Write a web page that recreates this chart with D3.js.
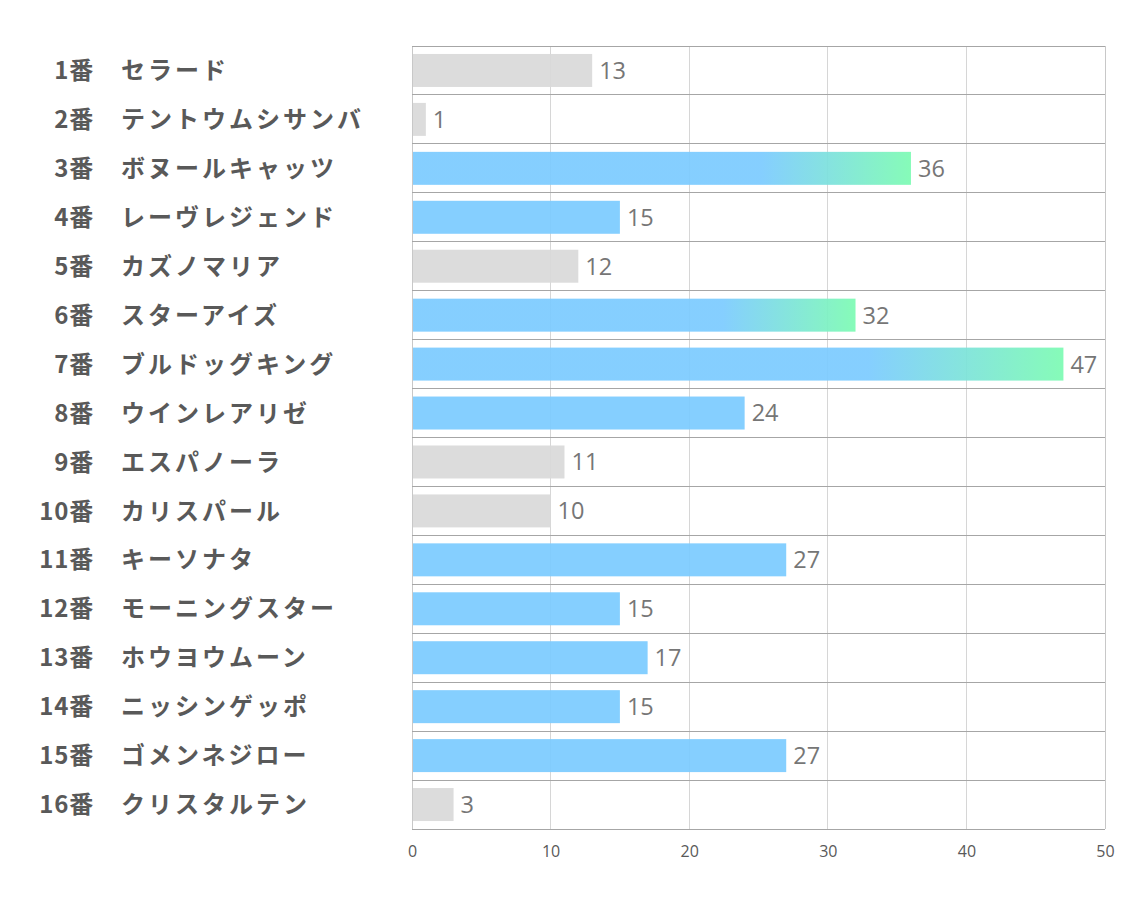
<!DOCTYPE html>
<html><head><meta charset="utf-8">
<script src="https://cdn.jsdelivr.net/npm/d3@7"></script>
<style>body{margin:0;background:#fff}</style>
</head><body>
<svg id="c" width="1134" height="907"></svg>
<script>
const numbers = ["1番","2番","3番","4番","5番","6番","7番","8番","9番","10番","11番","12番","13番","14番","15番","16番"];
const names = ["セラード","テントウムシサンバ","ボヌールキャッツ","レーヴレジェンド","カズノマリア","スターアイズ","ブルドッグキング","ウインレアリゼ","エスパノーラ","カリスパール","キーソナタ","モーニングスター","ホウヨウムーン","ニッシンゲッポ","ゴメンネジロー","クリスタルテン"];
const values = [13,1,36,15,12,32,47,24,11,10,27,15,17,15,27,3];
const kinds = ["grey","grey","grad","blue","grey","grad","grad","blue","grey","grey","blue","blue","blue","blue","blue","grey"];
const xTicks = [0,10,20,30,40,50];

const svg = d3.select("#c");
const L=412, R=1105, T=46, B=829;
const x = d3.scaleLinear().domain([0,50]).range([L,R]);
const y = d3.scaleBand().domain(d3.range(16)).range([T,B]).paddingInner(0.326).paddingOuter(0.163);
const step = y.step();

const defs = svg.append("defs");
const grad = defs.append("linearGradient").attr("id","g").attr("x1","0").attr("x2","1").attr("y1","0").attr("y2","0");
grad.append("stop").attr("offset","0.7").attr("stop-color","#7ccbff");
grad.append("stop").attr("offset","1").attr("stop-color","#7dfbb3");

// vertical gridlines
svg.append("g").selectAll("line").data(xTicks).join("line")
  .attr("x1",d=>x(d)).attr("x2",d=>x(d)).attr("y1",T).attr("y2",B)
  .attr("stroke",d=>(d===0||d===50)?"#c8c8c8":"#d6d6d6").attr("stroke-width",1).attr("shape-rendering","crispEdges");
// horizontal row lines
svg.append("g").selectAll("line").data(d3.range(17)).join("line")
  .attr("x1",L).attr("x2",R).attr("y1",d=>T+d*step).attr("y2",d=>T+d*step)
  .attr("stroke","#a6a6a6").attr("stroke-width",1).attr("shape-rendering","crispEdges");

// bars
svg.append("g").selectAll("rect").data(values).join("rect")
  .attr("x",x(0)+1).attr("y",(d,i)=>y(i))
  .attr("width",d=>x(d)-x(0)-1).attr("height",y.bandwidth())
  .attr("fill",(d,i)=>kinds[i]==="grey"?"#d9d9d9":kinds[i]==="blue"?"#7ccbff":"url(#g)")
  .attr("opacity",0.93);

// value labels
svg.append("g").selectAll("text").data(values).join("text")
  .attr("x",d=>x(d)+7).attr("y",(d,i)=>y(i)+y.bandwidth()/2)
  .attr("dy","0.36em").attr("font-family","'Open Sans','Noto Sans',sans-serif")
  .attr("font-size",23.5).attr("fill","#767676").text(d=>d);

// category labels
const lab = svg.append("g").attr("font-family","'Noto Sans CJK JP',sans-serif").attr("font-weight","bold").attr("font-size",24).attr("fill","#595959");
lab.selectAll("text.n").data(numbers).join("text").attr("class","n")
  .attr("x",94).attr("y",(d,i)=>y(i)+y.bandwidth()/2).attr("dy","0.36em").attr("text-anchor","end")
  .attr("letter-spacing",0.8).text(d=>d);
lab.selectAll("text.m").data(names).join("text").attr("class","m")
  .attr("x",121).attr("y",(d,i)=>y(i)+y.bandwidth()/2).attr("dy","0.36em")
  .attr("letter-spacing",3).text(d=>d);

// x axis
const ax = svg.append("g").attr("transform",`translate(0,${B})`)
  .call(d3.axisBottom(x).tickValues(xTicks).tickSize(0).tickPadding(17));
ax.select(".domain").remove();
ax.selectAll("text").attr("font-family","'Open Sans','Noto Sans',sans-serif").attr("font-size",16).attr("fill","#595959");
</script>
</body></html>
